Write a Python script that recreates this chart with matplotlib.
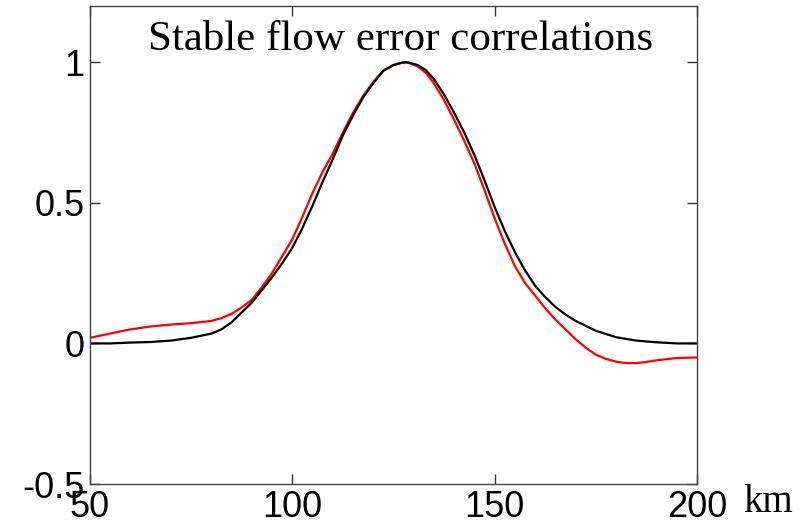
import matplotlib.pyplot as plt

# distance (km) and correlation values
x_black = [50, 55, 60, 65, 70, 75, 80, 82.5, 85, 87.5, 90, 92.5, 95, 97.5, 100, 102.5,
           105, 107.5, 110, 112.5, 115, 117.5, 120, 122.5, 125, 127, 128, 129, 131,
           133, 135, 137.5, 140, 142.5, 145, 147.5, 150, 152.5, 155, 157.5, 160,
           162.5, 165, 167.5, 170, 175, 180, 185, 190, 195, 200]
y_black = [0.0, 0.0, 0.003, 0.005, 0.01, 0.02, 0.035, 0.05, 0.075, 0.11, 0.145, 0.19,
           0.235, 0.285, 0.34, 0.41, 0.49, 0.575, 0.655, 0.74, 0.81, 0.875, 0.925,
           0.97, 0.99, 0.998, 1.0, 0.998, 0.99, 0.972, 0.94, 0.885, 0.82, 0.75,
           0.67, 0.58, 0.485, 0.4, 0.325, 0.26, 0.205, 0.165, 0.13, 0.103, 0.08,
           0.045, 0.022, 0.01, 0.004, 0.0, 0.0]

x_red = [50, 55, 60, 65, 70, 75, 80, 82.5, 85, 87.5, 90, 92.5, 95, 97.5, 100, 102.5,
         105, 107.5, 110, 112.5, 115, 117.5, 120, 122.5, 125, 127, 128, 129, 131,
         133, 135, 137.5, 140, 142.5, 145, 147.5, 150, 152.5, 155, 157.5, 160,
         162.5, 165, 167.5, 170, 172.5, 175, 177.5, 180, 182.5, 185, 187.5, 190,
         195, 200]
y_red = [0.02, 0.035, 0.05, 0.06, 0.067, 0.072, 0.08, 0.09, 0.105, 0.128, 0.155, 0.2,
         0.25, 0.31, 0.37, 0.45, 0.535, 0.61, 0.675, 0.75, 0.82, 0.88, 0.93, 0.97,
         0.99, 0.998, 1.0, 0.997, 0.985, 0.962, 0.925, 0.865, 0.795, 0.72, 0.64,
         0.545, 0.445, 0.355, 0.275, 0.215, 0.17, 0.125, 0.085, 0.05, 0.015, -0.015,
         -0.04, -0.055, -0.065, -0.07, -0.07, -0.066, -0.06, -0.052, -0.05]

xticks = [50, 100, 150, 200]
yticks = [-0.5, 0, 0.5, 1]
ytick_labels = ['-0.5', '0', '0.5', '1']

fig = plt.figure(figsize=(8.1, 5.31), dpi=100)
ax = fig.add_axes([0.111, 0.0885, 0.7495, 0.9002])

ax.plot(x_red, y_red, color='red', lw=1.6)
ax.plot(x_black, y_black, color='black', lw=1.6)

ax.set_xlim(50, 200)
ax.set_ylim(-0.5, 1.2)
ax.set_xticks(xticks)
ax.set_xticklabels([str(t) for t in xticks])
ax.set_yticks(yticks)
ax.set_yticklabels(ytick_labels)
ax.tick_params(direction='in', length=7, width=1, top=True, right=True,
               labelsize=26, pad=4, colors='#333333', labelcolor='black')
for lab in ax.get_xticklabels() + ax.get_yticklabels():
    lab.set_family('Liberation Sans')
for s in ax.spines.values():
    s.set_color('#444444')
    s.set_linewidth(1)

ax.text(0.512, 0.908, 'Stable flow error correlations', transform=ax.transAxes,
        ha='center', va='baseline', fontsize=31, family='Liberation Serif')
fig.text(0.918, 0.035, 'km', ha='left', va='baseline', fontsize=28,
         family='Liberation Serif')

fig.savefig('out.png', dpi=100)
